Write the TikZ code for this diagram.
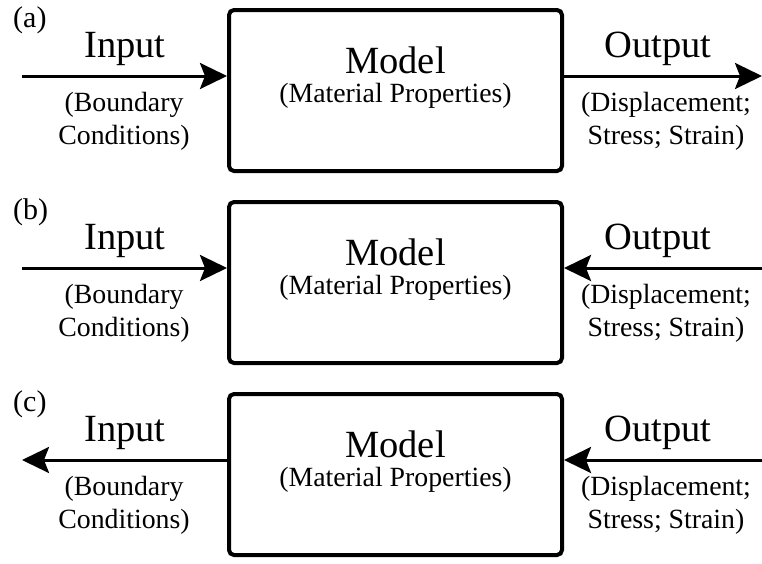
\documentclass[tikz,border=0pt]{standalone}
\usepackage{fontspec}
\setmainfont{Liberation Serif}
\usetikzlibrary{arrows.meta}

\tikzset{
  modelbox/.style={draw, line width=4pt, rounded corners=5pt, minimum width=333pt, minimum height=161pt},
  bigtext/.style={font=\fontsize{38.5}{42}\selectfont, anchor=base, inner sep=0pt},
  smalltext/.style={font=\fontsize{27.8}{32.5}\selectfont, align=center, anchor=base, inner sep=0pt},
  panellabel/.style={font=\fontsize{30}{34}\selectfont, anchor=base west, inner sep=0pt},
  flow/.style={line width=3pt, -{Stealth[length=27pt, width=26pt, inset=5pt]}}
}

\begin{document}
\begin{tikzpicture}[x=1pt, y=-1pt]
\useasboundingbox (0,0) rectangle (762,563);
% Panel (a): input and output both run forward
\node[panellabel] (labA) at (13,27) {(a)};
\node[modelbox] (modelA) at (395.5,90.5) {};
\node[bigtext] (modA) at (395.5,73) {Model};
\node[smalltext] (matA) at (395.5,102) {(Material Properties)};
\node[bigtext] (inA) at (125,57) {Input};
\node[smalltext] (bcA) at (124,144) {(Boundary\\Conditions)};
\node[bigtext] (outA) at (658,57) {Output};
\node[smalltext] (resA) at (666,144) {(Displacement;\\Stress; Strain)};
\coordinate (leftA) at (22,76);
\coordinate (rightA) at (762,76);
\draw[flow] (leftA) -- (leftA -| modelA.west);
\draw[flow] (rightA -| modelA.east) -- (rightA);
% Panel (b): input and output both go into the model
\node[panellabel] (labB) at (13,219) {(b)};
\node[modelbox] (modelB) at (395.5,282.5) {};
\node[bigtext] (modB) at (395.5,265) {Model};
\node[smalltext] (matB) at (395.5,294) {(Material Properties)};
\node[bigtext] (inB) at (125,249) {Input};
\node[smalltext] (bcB) at (124,336) {(Boundary\\Conditions)};
\node[bigtext] (outB) at (658,249) {Output};
\node[smalltext] (resB) at (666,336) {(Displacement;\\Stress; Strain)};
\coordinate (leftB) at (22,268);
\coordinate (rightB) at (762,268);
\draw[flow] (leftB) -- (leftB -| modelB.west);
\draw[flow] (rightB) -- (rightB -| modelB.east);
% Panel (c): output goes in, input comes out
\node[panellabel] (labC) at (13,411) {(c)};
\node[modelbox] (modelC) at (395.5,474.5) {};
\node[bigtext] (modC) at (395.5,457) {Model};
\node[smalltext] (matC) at (395.5,486) {(Material Properties)};
\node[bigtext] (inC) at (125,441) {Input};
\node[smalltext] (bcC) at (124,528) {(Boundary\\Conditions)};
\node[bigtext] (outC) at (658,441) {Output};
\node[smalltext] (resC) at (666,528) {(Displacement;\\Stress; Strain)};
\coordinate (leftC) at (22,460);
\coordinate (rightC) at (762,460);
\draw[flow] (leftC -| modelC.west) -- (leftC);
\draw[flow] (rightC) -- (rightC -| modelC.east);
\end{tikzpicture}
\end{document}
